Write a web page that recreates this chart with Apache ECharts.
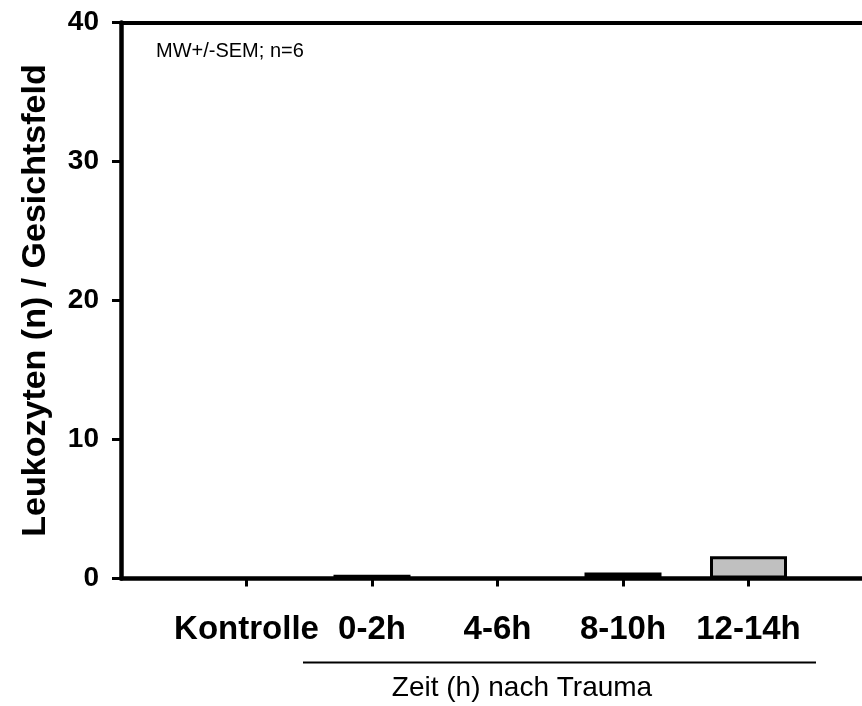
<!DOCTYPE html>
<html>
<head>
<meta charset="utf-8">
<script src="https://cdn.jsdelivr.net/npm/echarts@6/dist/echarts.min.js"></script>
<style>
html,body{margin:0;padding:0;background:#fff;}
#chart{width:862px;height:706px;}
</style>
</head>
<body>
<div id="chart"></div>
<script>
const categories = ['Kontrolle', '0-2h', '4-6h', '8-10h', '12-14h'];
const values = [0, 0.27, 0, 0.44, 1.6];
const yTicks = [0, 10, 20, 30, 40];
const yTitle = 'Leukozyten (n) / Gesichtsfeld';
const xTitle = 'Zeit (h) nach Trauma';
const note = 'MW+/-SEM; n=6';

const axisCats = [''].concat(categories, ['']);
const barData = [null].concat(values, [null]);
const FONT = '"Liberation Sans", Arial, Helvetica, sans-serif';

const chart = echarts.init(document.getElementById('chart'), null, {renderer: 'canvas'});
chart.setOption({
  backgroundColor: '#fff',
  animation: false,
  grid: {left: 121, top: 22.5, bottom: 127.5, width: 753, containLabel: false, outerBoundsMode: 'none'},
  xAxis: [{
    type: 'category',
    data: axisCats,
    boundaryGap: false,
    axisLine: {show: true, lineStyle: {color: '#000', width: 4.5}},
    axisTick: {show: true, length: 8, lineStyle: {color: '#000', width: 3},
      interval: function (i, v) { return v !== ''; }},
    axisLabel: {show: true, color: '#000', fontFamily: FONT, fontWeight: 'bold', fontSize: 33, margin: 35,
      interval: 0},
    splitLine: {show: false}
  }, {
    type: 'category',
    data: axisCats,
    boundaryGap: false,
    position: 'top',
    axisLine: {show: true, lineStyle: {color: '#000', width: 4}},
    axisTick: {show: false},
    axisLabel: {show: false},
    splitLine: {show: false}
  }],
  yAxis: {
    type: 'value',
    min: yTicks[0],
    max: yTicks[yTicks.length - 1],
    interval: 10,
    name: yTitle,
    nameLocation: 'middle',
    nameGap: 68,
    nameTextStyle: {color: '#000', fontFamily: FONT, fontWeight: 'bold', fontSize: 34},
    axisLine: {show: true, lineStyle: {color: '#000', width: 4.5}},
    axisTick: {show: true, length: 9, lineStyle: {color: '#000', width: 3}},
    axisLabel: {color: '#000', fontFamily: FONT, fontWeight: 'bold', fontSize: 28, margin: 22},
    splitLine: {show: false}
  },
  series: [{
    type: 'bar',
    data: barData,
    barWidth: 77,
    itemStyle: {color: '#c0c0c0', borderColor: '#000', borderWidth: 3}
  }],
  graphic: [
    {type: 'text', left: 156, top: 41,
      style: {text: note, fill: '#000', font: '20px ' + FONT}},
    {type: 'line', shape: {x1: 303, y1: 662.5, x2: 816, y2: 662.5},
      style: {stroke: '#000', lineWidth: 2}},
    {type: 'text', x: 522, y: 688,
      style: {text: xTitle, fill: '#000', font: '28px ' + FONT, align: 'center', verticalAlign: 'middle'}}
  ]
});
</script>
</body>
</html>
